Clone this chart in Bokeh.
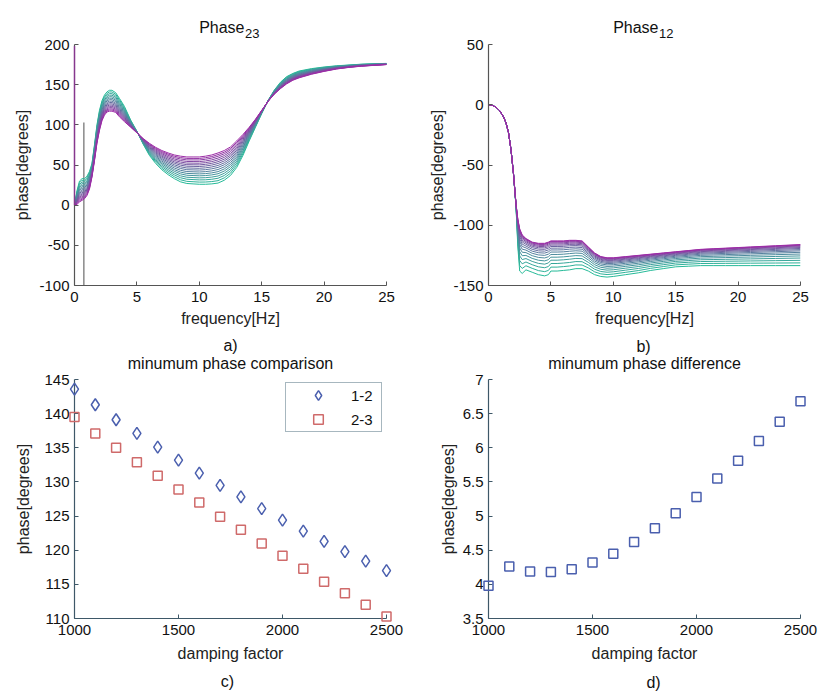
import numpy as np
from bokeh.plotting import figure
from bokeh.layouts import column, row
from bokeh.core.properties import value
from bokeh.models import Title, Legend, LegendItem, FixedTicker, Range1d, NumeralTickFormatter
from bokeh.embed import file_html
from bokeh.resources import INLINE

# ---------------- data ----------------
damping = [1000, 1100, 1200, 1300, 1400, 1500, 1600, 1700,
           1800, 1900, 2000, 2100, 2200, 2300, 2400, 2500]

# Phase23 (panel a): first (teal) and last (purple) curves of the family
freq_a = [0, 0.2, 0.4, 0.6, 0.8, 1.0, 1.2, 1.4, 1.6, 1.8, 2.0, 2.2, 2.4, 2.6, 2.8,
          3.0, 3.3, 3.6, 4.0, 4.5, 5.0, 5.5, 6.0, 6.5, 7.0, 7.5, 8.0, 8.5, 9.0, 9.5,
          10, 10.5, 11, 11.5, 12, 12.5, 13, 13.5, 14, 14.5, 15, 15.5, 16, 16.5, 17,
          17.5, 18, 19, 20, 21, 22, 23, 24, 25]
phase23_first = [0, 18, 30, 33, 33, 36, 42, 52, 75, 100, 118, 130, 137, 141, 143,
                 143, 140, 133, 123, 106, 92, 76, 62, 52, 44, 38, 33, 29, 27, 26.5,
                 26, 26, 26.5, 27.5, 31, 37, 47, 62, 80, 97, 114, 130, 143, 153, 160,
                 164, 167, 170, 172, 173.5, 174.5, 175.5, 176, 176.5]
phase23_last = [0, 1, 4, 6, 8, 12, 20, 35, 55, 77, 93, 105, 112, 116, 117,
                117, 115.5, 110, 104, 97, 90, 83, 77, 72, 68, 65, 62.5, 61, 60, 60,
                60, 61, 62.5, 65, 68, 72.5, 80, 88, 97, 107, 118, 129, 138, 145, 151,
                155.5, 158.5, 163, 166.5, 169.5, 171.5, 173, 174, 175]
mix_a = [0.0, 0.08, 0.16, 0.235, 0.31, 0.38, 0.45, 0.52,
         0.585, 0.65, 0.71, 0.77, 0.83, 0.89, 0.945, 1.0]
edge_a_f = [0, 0]
edge_a_v = [0, 198]
spike_a_f = [0.75, 0.75]
spike_a_v = [-100, 103]

# Phase12 (panel b)
freq_b = [0, 0.3, 0.6, 0.9, 1.2, 1.4, 1.6, 1.8, 2.0, 2.2, 2.35, 2.5, 2.7, 3.0, 3.5,
          4.0, 4.5, 4.8, 5.0, 5.5, 6.0, 6.5, 7.0, 7.5, 8.0, 8.5, 9.0, 9.5, 10, 11,
          12, 13, 14, 15, 16, 17, 18, 19, 20, 21, 22, 23, 24, 25]
phase12_first = [0, -0.5, -2, -5, -10, -15, -23, -37, -57, -84, -118, -138, -140, -137, -139,
                 -141, -142, -141, -138, -138, -137.5, -137, -136, -136, -138, -141, -142.5, -143, -142.5, -141,
                 -139.5, -137.5, -136, -134.5, -134, -133.5, -133.5, -133.5, -133.5, -133.5, -133.5, -133.5, -133.5, -133.5]
phase12_last = [0, -0.5, -2, -5, -10, -15, -23, -37, -57, -82, -95, -103, -108, -111, -114,
                -115, -115, -114, -113, -113, -113, -112.5, -112.5, -113, -118, -123, -126, -127, -127, -126,
                -125, -124, -123, -122, -121, -120, -119.5, -119, -118.5, -118, -117.5, -117, -116.5, -116]
mix_b = [0.0, 0.13, 0.25, 0.36, 0.46, 0.55, 0.63, 0.70,
         0.76, 0.815, 0.86, 0.90, 0.935, 0.965, 0.985, 1.0]

# panel c / d
min12 = [143.6, 141.3, 139.1, 137.1, 135.1, 133.2, 131.3, 129.5,
         127.8, 126.1, 124.4, 122.8, 121.3, 119.8, 118.4, 117.0]
min23 = [139.5, 137.1, 135.0, 132.9, 130.9, 128.9, 127.0, 124.9,
         123.0, 121.0, 119.2, 117.3, 115.4, 113.7, 112.0, 110.3]
min_diff = [3.98, 4.26, 4.19, 4.18, 4.22, 4.32, 4.45, 4.62,
            4.82, 5.04, 5.28, 5.55, 5.81, 6.10, 6.38, 6.68]

xt_freq = [0, 5, 10, 15, 20, 25]
yt_a = [-100, -50, 0, 50, 100, 150, 200]
yt_b = [-150, -100, -50, 0, 50]
xt_damp = [1000, 1500, 2000, 2500]
yt_c = [110, 115, 120, 125, 130, 135, 140, 145]
yt_d = [3.5, 4, 4.5, 5, 5.5, 6, 6.5, 7]

title_main = "Phase"
title_sub_a = "23"
title_sub_b = "12"
captions = ["a)", "b)", "c)", "d)"]

# ---------------- style ----------------
FONT = "Liberation Sans"
TEAL = np.array([38, 186, 152])
PURPLE = np.array([156, 44, 166])
colors = []
for i in range(len(damping)):
    t = i / (len(damping) - 1)
    c = (1 - t) * TEAL + t * PURPLE
    colors.append("#%02x%02x%02x" % tuple(int(round(v)) for v in c))


def make_fig(w, h, l, r, t, b, xr, yr, axis_color):
    p = figure(width=w, height=h, min_border_left=l, min_border_right=r,
               min_border_top=t, min_border_bottom=b, title=None,
               x_range=Range1d(*xr), y_range=Range1d(*yr),
               output_backend="svg", toolbar_location=None)
    p.outline_line_color = None
    p.xgrid.visible = False
    p.ygrid.visible = False
    p.background_fill_color = "white"
    p.border_fill_color = "white"
    for ax in (p.xaxis[0], p.yaxis[0]):
        ax.axis_line_color = axis_color
        ax.axis_line_width = 1.2
        ax.major_tick_line_color = axis_color
        ax.major_tick_in = 4
        ax.major_tick_out = 0
        ax.minor_tick_line_color = None
        ax.major_label_text_font = FONT
        ax.major_label_text_font_size = "15px"
        ax.major_label_text_color = "#111111"
        ax.axis_label_text_font = FONT
        ax.axis_label_text_font_size = "16px"
        ax.axis_label_text_font_style = "normal"
        ax.axis_label_text_color = "#222222"
        ax.major_label_standoff = 5
    p.xaxis.major_label_standoff = 6
    return p


def put_text(p, text, xr, yv, dx, dy, size="16px", align="center", baseline="middle"):
    # text placed relative to the frame centre / edge with pixel offsets
    xc = 0.5 * (xr[0] + xr[1])
    p.text(x=[xc], y=[yv], text=[text], x_offset=dx, y_offset=dy,
           text_font=value(FONT), text_font_size=value(size), text_color="#111111",
           text_align=align, text_baseline=baseline, level="overlay")


def add_title(p, text):
    p.add_layout(Title(text=text, align="center", text_font=FONT, text_font_size="16px",
                       text_font_style="normal", text_color="#111111", standoff=15), "above")


# ---------------- panel a ----------------
xr_a = (0, 25)
yr_a = (-100, 200)
pa = make_fig(410, 333, 74, 24, 44, 48, xr_a, yr_a, "#555555")
pa.xaxis.ticker = FixedTicker(ticks=xt_freq)
pa.yaxis.ticker = FixedTicker(ticks=yt_a)
pa.yaxis.formatter = NumeralTickFormatter(format="0")
pa.xaxis.axis_label = "frequency[Hz]"
pa.yaxis.axis_label = "phase[degrees]"
pa.xaxis.axis_label_standoff = 5
pa.yaxis.axis_label_standoff = 5
fa = np.array(freq_a)
a0 = np.array(phase23_first)
a1 = np.array(phase23_last)
pa.line(spike_a_f, spike_a_v, line_color="#777777", line_width=1.3)
for i, m in enumerate(mix_a):
    pa.line(fa, (1 - m) * a0 + m * a1, line_color=colors[i], line_width=1.0)
pa.line(edge_a_f, edge_a_v, line_color=colors[-1], line_width=1.5, line_alpha=0.7, level="overlay")
put_text(pa, title_main, xr_a, yr_a[1], 14, -17, align="right", baseline="alphabetic")
put_text(pa, title_sub_a, xr_a, yr_a[1], 14.5, -11, size="13px", align="left", baseline="alphabetic")

# ---------------- panel b ----------------
xr_b = (0, 25)
yr_b = (-150, 50)
pb = make_fig(411, 333, 78, 21, 44, 48, xr_b, yr_b, "#555555")
pb.xaxis.ticker = FixedTicker(ticks=xt_freq)
pb.yaxis.ticker = FixedTicker(ticks=yt_b)
pb.yaxis.formatter = NumeralTickFormatter(format="0")
pb.xaxis.axis_label = "frequency[Hz]"
pb.yaxis.axis_label = "phase[degrees]"
pb.xaxis.axis_label_standoff = 5
pb.yaxis.axis_label_standoff = 4
fb = np.array(freq_b)
b0 = np.array(phase12_first)
b1 = np.array(phase12_last)
for i, m in enumerate(mix_b):
    pb.line(fb, (1 - m) * b0 + m * b1, line_color=colors[i], line_width=1.0)
put_text(pb, title_main, xr_b, yr_b[1], 14, -17, align="right", baseline="alphabetic")
put_text(pb, title_sub_b, xr_b, yr_b[1], 14.5, -11, size="13px", align="left", baseline="alphabetic")

# ---------------- panel c ----------------
xr_c = (1000, 2500)
yr_c = (110, 145)
pc = make_fig(410, 358, 74, 24, 46, 72, xr_c, yr_c, "#3e5868")
add_title(pc, "minumum phase comparison")
pc.xaxis.ticker = FixedTicker(ticks=xt_damp)
pc.yaxis.ticker = FixedTicker(ticks=yt_c)
pc.xaxis.axis_label = "damping factor"
pc.yaxis.axis_label = "phase[degrees]"
pc.xaxis.axis_label_standoff = 7
pc.yaxis.axis_label_standoff = 9
r12 = pc.scatter(damping, min12, marker="diamond", size=12, fill_color=None,
                 line_color="#4a5fae", line_width=1.5, level="overlay")
r23 = pc.scatter(damping, min23, marker="square", size=9, fill_color=None,
                 line_color="#cf6a6a", line_width=1.5, level="overlay")
leg = Legend(items=[LegendItem(label="1-2", renderers=[r12]),
                    LegendItem(label="2-3", renderers=[r23])],
             location=(211, 186), margin=0, padding=0, spacing=0,
             glyph_width=64, glyph_height=24, label_standoff=1, label_width=30,
             label_text_font=FONT, label_text_font_size="15px", label_text_color="#111111",
             border_line_color="#4f7080", border_line_width=1.5,
             background_fill_color="white", background_fill_alpha=1.0)
pc.add_layout(leg)
put_text(pc, captions[0], xr_c, yr_c[1], 0, -34)
put_text(pc, captions[2], xr_c, yr_c[0], -3, 63)

# ---------------- panel d ----------------
xr_d = (1000, 2500)
yr_d = (3.5, 7)
pd_ = make_fig(411, 358, 78, 21, 45, 73, xr_d, yr_d, "#3e5868")
add_title(pd_, "minumum phase difference")
pd_.xaxis.ticker = FixedTicker(ticks=xt_damp)
pd_.yaxis.ticker = FixedTicker(ticks=yt_d)
pd_.yaxis.formatter = NumeralTickFormatter(format="0.[0]")
pd_.xaxis.axis_label = "damping factor"
pd_.yaxis.axis_label = "phase[degrees]"
pd_.xaxis.axis_label_standoff = 7
pd_.yaxis.axis_label_standoff = 3
pd_.scatter(damping, min_diff, marker="square", size=9, fill_color=None,
            line_color="#4a5fae", line_width=1.5, level="overlay")
put_text(pd_, captions[1], xr_d, yr_d[1], -1, -33)
put_text(pd_, captions[3], xr_d, yr_d[0], 9, 64)

layout = column(row(pa, pb), row(pc, pd_))
open("out.html", "w").write(file_html(layout, INLINE))
